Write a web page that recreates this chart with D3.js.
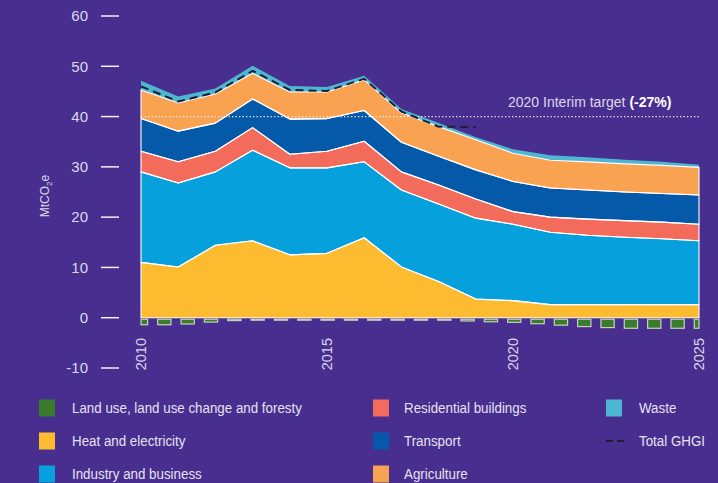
<!DOCTYPE html>
<html>
<head>
<meta charset="utf-8">
<script src="https://cdn.jsdelivr.net/npm/d3@7"></script>
<style>
  body { margin: 0; background: #482e8f; }
  svg { display: block; }
  .tick-label { font-family: "Liberation Sans", Arial, sans-serif; fill: #dcd8ea; }
  .legend text { font-family: "Liberation Sans", sans-serif; fill: #e6e2f0; }
</style>
</head>
<body>
<div id="chart"></div>
<script>
// years and emissions per sector, MtCO2e
var years = [2010, 2011, 2012, 2013, 2014, 2015, 2016, 2017, 2018, 2019, 2020, 2021, 2022, 2023, 2024, 2025];
var heat        = [11.0, 10.1, 14.4, 15.3, 12.5, 12.8, 15.9, 10.1, 7.2, 3.7, 3.4, 2.6, 2.6, 2.6, 2.6, 2.6];
var industry    = [18.0, 16.7, 14.6, 18.0, 17.3, 17.0, 15.1, 15.3, 15.4, 16.1, 15.2, 14.4, 13.8, 13.4, 13.1, 12.7];
var residential = [4.1, 4.2, 4.1, 4.5, 2.7, 3.3, 4.1, 3.6, 3.8, 3.8, 2.5, 3.0, 3.2, 3.3, 3.3, 3.3];
var transport   = [6.5, 6.1, 5.6, 5.7, 7.0, 6.5, 6.1, 5.9, 5.7, 5.8, 6.0, 5.8, 5.8, 5.7, 5.7, 5.8];
var agriculture = [5.7, 5.6, 5.8, 5.1, 5.4, 5.3, 6.1, 5.8, 5.9, 6.0, 5.6, 5.5, 5.6, 5.6, 5.6, 5.5];
var waste       = [1.8, 1.3, 1.1, 1.5, 1.2, 1.0, 0.8, 0.8, 0.7, 0.5, 0.8, 1.0, 0.9, 0.8, 0.7, 0.5];
var lulucf      = [-1.4, -1.4, -0.8, -0.35, -0.3, -0.3, -0.3, -0.3, -0.3, -0.75, -0.9, -1.35, -1.8, -2.1, -2.1, -2.1];
var totalYears  = [2010, 2011, 2012, 2013, 2014, 2015, 2016, 2017, 2018, 2019];
var totalGHGI   = [46.0, 43.0, 44.8, 49.1, 45.3, 45.1, 47.5, 41.0, 38.0, 37.9];
var yTicks = [-10, 0, 10, 20, 30, 40, 50, 60];
var xTicks = [2010, 2015, 2020, 2025];
var target = 40;

var keys = ["heat", "industry", "residential", "transport", "agriculture", "waste"];
var colors = {
  lulucf: "#3a7c2c", heat: "#fdbb2f", industry: "#06a0dc", residential: "#f26b5b",
  transport: "#045aa8", agriculture: "#f9a352", waste: "#4fb6d1"
};

var width = 718, height = 483;

var svg = d3.select("#chart").append("svg")
  .attr("width", width)
  .attr("height", height);

var x = d3.scaleLinear().domain([2010, 2025]).range([141, 699]);
var y = d3.scaleLinear().domain([-10, 60]).range([368, 16]);

// build table for stack
var table = years.map(function(yr, i) {
  return { year: yr, heat: heat[i], industry: industry[i], residential: residential[i],
           transport: transport[i], agriculture: agriculture[i], waste: waste[i] };
});
var series = d3.stack().keys(keys)(table);

var area = d3.area()
  .x(function(d) { return x(d.data.year); })
  .y0(function(d) { return y(d[0]); })
  .y1(function(d) { return y(d[1]); });

// y axis: short ticks + labels
var yAxis = svg.append("g");
yAxis.selectAll("line").data(yTicks).enter().append("line")
  .attr("x1", 101).attr("x2", 119)
  .attr("y1", function(d) { return y(d); })
  .attr("y2", function(d) { return y(d); })
  .attr("stroke", "#f2f0f8").attr("stroke-width", 1.5);
yAxis.selectAll("text").data(yTicks).enter().append("text")
  .attr("class", "tick-label")
  .attr("x", 88)
  .attr("y", function(d) { return y(d); })
  .attr("dy", "0.35em")
  .attr("text-anchor", "end")
  .attr("font-size", "15px")
  .text(function(d) { return d; });

var ylab = svg.append("text")
  .attr("class", "tick-label")
  .attr("transform", "translate(49,196) rotate(-90)")
  .attr("text-anchor", "middle")
  .attr("font-size", "12px");
ylab.append("tspan").text("MtCO");
ylab.append("tspan").attr("font-size", "8px").attr("dy", "3").text("2");
ylab.append("tspan").attr("dy", "-3").text("e");

// x axis labels, rotated
svg.append("g").selectAll("text").data(xTicks).enter().append("text")
  .attr("class", "tick-label")
  .attr("transform", function(d) { return "translate(" + x(d) + ",338) rotate(-90)"; })
  .attr("text-anchor", "end")
  .attr("dy", "0.36em")
  .attr("font-size", "14.5px")
  .text(function(d) { return d; });

// stacked areas
svg.append("g").selectAll("path").data(series).enter().append("path")
  .attr("d", area)
  .attr("fill", function(d) { return colors[d.key]; });
svg.append("g").selectAll("path").data(series.filter(function(s) { return s.key != "waste"; })).enter().append("path")
  .attr("d", area)
  .attr("fill", "none")
  .attr("stroke", "#ffffff")
  .attr("stroke-width", 1.1)
  .attr("stroke-linejoin", "round");

// LULUCF drawn as dashed blocks below zero
var lu = d3.scaleLinear().domain(years).range(lulucf);
var dashW = 13.3, period = 23.33;
var starts = d3.range(x(2010) - dashW / 2, x(2025), period);
svg.append("g").selectAll("rect").data(starts).enter().append("rect")
  .attr("x", function(d) { return Math.max(d, x(2010)); })
  .attr("width", function(d) { return Math.min(d + dashW, x(2025)) - Math.max(d, x(2010)); })
  .attr("y", y(0) + 1.5)
  .attr("height", function(d) {
    var c = Math.min(Math.max(d + dashW / 2, x(2010)), x(2025));
    return Math.max(1, y(lu(x.invert(c))) - y(0) - 1.5);
  })
  .attr("fill", colors.lulucf)
  .attr("stroke", "#c9d0bd")
  .attr("stroke-width", 1.2);

// target line
svg.append("line")
  .attr("x1", x(2010)).attr("x2", x(2025) + 1)
  .attr("y1", y(target)).attr("y2", y(target))
  .attr("stroke", "#f4f0fa")
  .attr("stroke-width", 1.3)
  .attr("stroke-dasharray", "1.3,2.2");
var tl = svg.append("text")
  .attr("class", "tick-label")
  .attr("x", 508).attr("y", 107)
  .attr("font-size", "14px");
tl.append("tspan").text("2020 Interim target ");
tl.append("tspan").attr("font-weight", "bold").attr("fill", "#ffffff").text("(-27%)");

// total GHGI dashed line
var line = d3.line()
  .x(function(d, i) { return x(totalYears[i]); })
  .y(function(d) { return y(d); });
svg.append("path")
  .datum(totalGHGI)
  .attr("d", line)
  .attr("fill", "none")
  .attr("stroke", "#1d1f33")
  .attr("stroke-width", 2)
  .attr("stroke-dasharray", "8,5");

// legend
var legendItems = [
  { name: "Land use, land use change and foresty", key: "lulucf", col: 0, row: 0 },
  { name: "Heat and electricity", key: "heat", col: 0, row: 1 },
  { name: "Industry and business", key: "industry", col: 0, row: 2 },
  { name: "Residential buildings", key: "residential", col: 1, row: 0 },
  { name: "Transport", key: "transport", col: 1, row: 1 },
  { name: "Agriculture", key: "agriculture", col: 1, row: 2 },
  { name: "Waste", key: "waste", col: 2, row: 0 },
  { name: "Total GHGI", key: "total", col: 2, row: 1 }
];
var colX = [39, 373, 606];
var rowY = [408, 441, 474];
var legend = svg.append("g").attr("class", "legend");
var li = legend.selectAll("g").data(legendItems).enter().append("g")
  .attr("transform", function(d) { return "translate(" + colX[d.col] + "," + rowY[d.row] + ")"; });
li.filter(function(d) { return d.key != "total"; }).append("rect")
  .attr("x", 0).attr("y", -8.5).attr("width", 16).attr("height", 17)
  .attr("fill", function(d) { return colors[d.key]; });
li.filter(function(d) { return d.key == "total"; }).append("line")
  .attr("x1", 0).attr("x2", 18).attr("y1", 0).attr("y2", 0)
  .attr("stroke", "#1d1f33").attr("stroke-width", 2).attr("stroke-dasharray", "7,4");
// condensed look: squeeze text horizontally
li.append("text")
  .attr("transform", function(d) { return "translate(" + (d.col == 1 ? 31 : 33) + ",0) scale(0.89,1)"; })
  .attr("dy", "0.35em")
  .attr("font-size", "15px")
  .text(function(d) { return d.name; });
</script>
</body>
</html>
